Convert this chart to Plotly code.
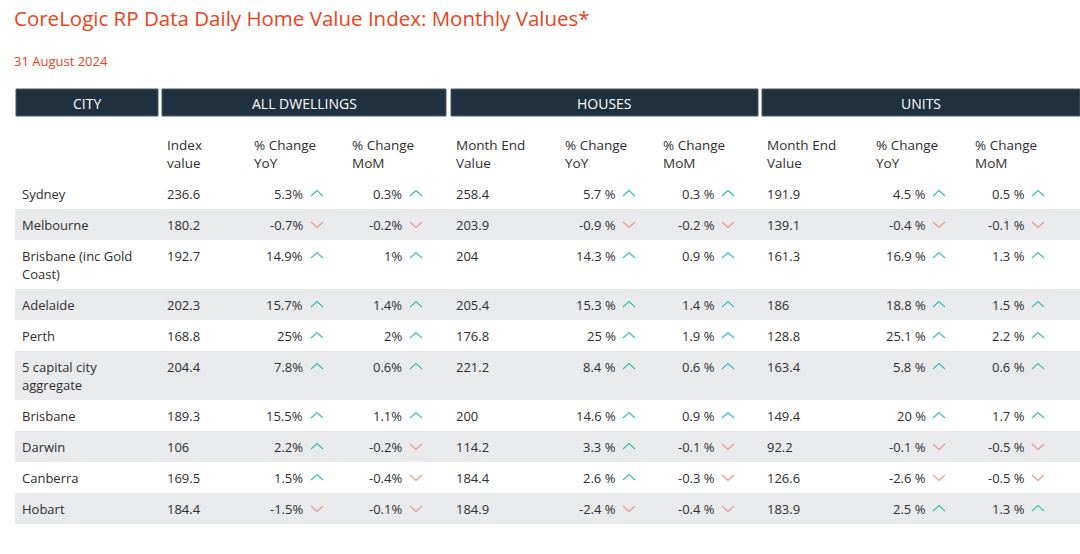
import textwrap
import plotly.graph_objects as go

# ---------------- data ----------------
title = "CoreLogic RP Data Daily Home Value Index: Monthly Values*"
subtitle = "31 August 2024"
group_headers = ["CITY", "ALL DWELLINGS", "HOUSES", "UNITS"]
sub_headers = ["Index\nvalue", "% Change\nYoY", "% Change\nMoM",
               "Month End\nValue", "% Change\nYoY", "% Change\nMoM",
               "Month End\nValue", "% Change\nYoY", "% Change\nMoM"]

cities = ["Sydney", "Melbourne", "Brisbane (inc Gold Coast)", "Adelaide", "Perth",
          "5 capital city aggregate", "Brisbane", "Darwin", "Canberra", "Hobart"]
all_index = [236.6, 180.2, 192.7, 202.3, 168.8, 204.4, 189.3, 106, 169.5, 184.4]
all_yoy = [5.3, -0.7, 14.9, 15.7, 25, 7.8, 15.5, 2.2, 1.5, -1.5]
all_mom = [0.3, -0.2, 1, 1.4, 2, 0.6, 1.1, -0.2, -0.4, -0.1]
house_value = [258.4, 203.9, 204, 205.4, 176.8, 221.2, 200, 114.2, 184.4, 184.9]
house_yoy = [5.7, -0.9, 14.3, 15.3, 25, 8.4, 14.6, 3.3, 2.6, -2.4]
house_mom = [0.3, -0.2, 0.9, 1.4, 1.9, 0.6, 0.9, -0.1, -0.3, -0.4]
unit_value = [191.9, 139.1, 161.3, 186, 128.8, 163.4, 149.4, 92.2, 126.6, 183.9]
unit_yoy = [4.5, -0.4, 16.9, 18.8, 25.1, 5.8, 20, -0.1, -2.6, 2.5]
unit_mom = [0.5, -0.1, 1.3, 1.5, 2.2, 0.6, 1.7, -0.5, -0.5, 1.3]

# ---------------- styles / layout ----------------
W, H = 1080, 554
FONT = "Open Sans, Noto Sans, sans-serif"
ORANGE = "#E8441C"
NAVY = "#1F303E"
BAND = "#E9EAEC"
TXT = "#2E2E2E"
UP = "#38BDB4"
DOWN = "#F2958C"

group_spans = [(16, 158), (162, 446), (451, 758), (762, 1080)]
header_top, header_bot = 89, 116
sub_left = [167, 254, 352, 456, 565, 663, 767, 876, 975]
sub_line1, line_gap = 145, 18
rows_top = 178
single_h = 31
city_x = 22

# value columns: (values, kind, anchor x, arrow x, pct suffix)
value_cols = [
    (all_index, "num", 167, None, None),
    (all_yoy, "pct", 303, 311, "%"),
    (all_mom, "pct", 402, 410, "%"),
    (house_value, "num", 456, None, None),
    (house_yoy, "pct", 616, 623, " %"),
    (house_mom, "pct", 715, 722, " %"),
    (unit_value, "num", 767, None, None),
    (unit_yoy, "pct", 926, 933, " %"),
    (unit_mom, "pct", 1025, 1032, " %"),
]

fig = go.Figure()
shapes = []
annotations = []


def ann(x, y, text, size=13, color=TXT, xanchor="left", font=FONT):
    annotations.append(dict(x=x, y=y, xref="x", yref="y", text=text, showarrow=False,
                            xanchor=xanchor, yanchor="middle", borderpad=0, borderwidth=0,
                            font=dict(family=font, size=size, color=color)))


# title
ann(14, 18, title, size=20.5, color=ORANGE)
ann(14, 61, subtitle, size=13, color=ORANGE)

# group header bars
for (x0, x1), label in zip(group_spans, group_headers):
    shapes.append(dict(type="rect", xref="x", yref="y", x0=x0, x1=x1, y0=header_top, y1=header_bot,
                       fillcolor=NAVY, line=dict(color="#4A5864", width=1), layer="below"))
    ann((x0 + x1) / 2, (header_top + header_bot) / 2 + 0.5, label, size=14, color="white",
        xanchor="center")

# sub headers
for x, lab in zip(sub_left, sub_headers):
    for k, line in enumerate(lab.split("\n")):
        ann(x, sub_line1 + k * line_gap, line, size=13.5)

# rows
up_x, up_y, dn_x, dn_y = [], [], [], []
top = rows_top
for i, city in enumerate(cities):
    lines = textwrap.wrap(city, 18)
    h = single_h + line_gap * (len(lines) - 1)
    yc = top + 15.5
    if i % 2 == 1:
        shapes.append(dict(type="rect", xref="x", yref="y", x0=15, x1=W, y0=top, y1=top + h,
                           fillcolor=BAND, line=dict(width=0), layer="below"))
    for k, line in enumerate(lines):
        ann(city_x, yc + k * line_gap, line)
    for vals, kind, ax, arx, suf in value_cols:
        v = vals[i]
        if kind == "num":
            ann(ax, yc, f"{v:g}")
        else:
            ann(ax, yc, f"{v:g}{suf}", xanchor="right")
            if v >= 0:
                up_x += [arx, arx + 6, arx + 12, None]
                up_y += [yc + 2.5, yc - 3, yc + 2.5, None]
            else:
                dn_x += [arx, arx + 6, arx + 12, None]
                dn_y += [yc - 2.5, yc + 3, yc - 2.5, None]
    top += h

fig.add_trace(go.Scatter(x=up_x, y=up_y, mode="lines", line=dict(color=UP, width=1.1),
                         hoverinfo="skip", showlegend=False))
fig.add_trace(go.Scatter(x=dn_x, y=dn_y, mode="lines", line=dict(color=DOWN, width=1.1),
                         hoverinfo="skip", showlegend=False))

fig.update_layout(
    width=W, height=H, autosize=False,
    margin=dict(l=0, r=0, t=0, b=0),
    paper_bgcolor="white", plot_bgcolor="white",
    xaxis=dict(range=[0, W], visible=False, fixedrange=True),
    yaxis=dict(range=[H, 0], visible=False, fixedrange=True),
    shapes=shapes, annotations=annotations,
)

fig.write_html("out.html", config={"displayModeBar": False},
               post_script="document.body.style.margin='0';")
